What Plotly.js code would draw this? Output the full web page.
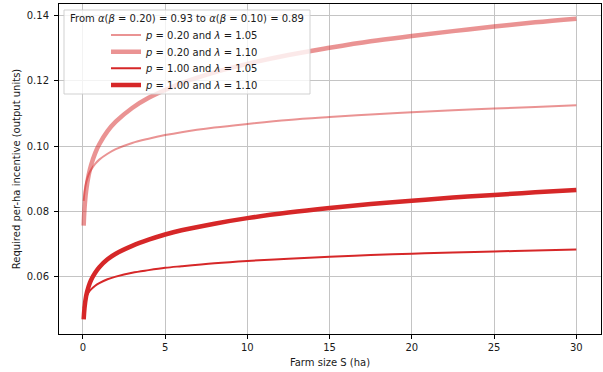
<!DOCTYPE html>
<html>
<head>
<meta charset="utf-8">
<script src="https://cdn.plot.ly/plotly-3.0.1.min.js"></script>
<style>html,body{margin:0;padding:0;background:#fff;}#chart{width:603px;height:372px;}</style>
</head>
<body>
<div id="chart"></div>
<script>
// Farm size S (ha)
const farmSize = [0.05,0.1,0.2,0.35,0.5,0.75,1,1.5,2,3,4,5,6,8,10,12.5,15,17.5,20,22.5,25,27.5,30];
// p = 0.20, lambda = 1.05
const p020_l105 = [0.0833,0.0861,0.0889,0.0913,0.0928,0.0946,0.0959,0.0977,0.0991,0.1010,0.1023,0.1034,0.1043,0.1057,0.1068,0.1080,0.1089,0.1097,0.1104,0.1110,0.1115,0.1120,0.1125];
// p = 0.20, lambda = 1.10
const p020_l110 = [0.0757,0.0809,0.0864,0.0911,0.0942,0.0979,0.1006,0.1046,0.1075,0.1117,0.1148,0.1172,0.1193,0.1226,0.1252,0.1279,0.1301,0.1321,0.1337,0.1352,0.1366,0.1379,0.1390];
// p = 1.00, lambda = 1.05
const p100_l105 = [0.0504,0.0520,0.0538,0.0553,0.0562,0.0573,0.0581,0.0593,0.0601,0.0613,0.0621,0.0628,0.0633,0.0642,0.0649,0.0656,0.0662,0.0667,0.0671,0.0675,0.0678,0.0681,0.0684];
// p = 1.00, lambda = 1.10
const p100_l110 = [0.0470,0.0505,0.0542,0.0571,0.0591,0.0613,0.0630,0.0654,0.0671,0.0695,0.0714,0.0730,0.0743,0.0763,0.0780,0.0797,0.0811,0.0823,0.0833,0.0843,0.0851,0.0859,0.0866];

const seriesNames = [
  '<i>p</i> = 0.20 and <i>λ</i> = 1.05',
  '<i>p</i> = 0.20 and <i>λ</i> = 1.10',
  '<i>p</i> = 1.00 and <i>λ</i> = 1.05',
  '<i>p</i> = 1.00 and <i>λ</i> = 1.10'
];
const legendTitle = 'From <i>α</i>(<i>β</i> = 0.20) = 0.93 to <i>α</i>(<i>β</i> = 0.10) = 0.89';
const xTicks = [0,5,10,15,20,25,30];
const yTicks = [0.06,0.08,0.10,0.12,0.14];

const light = 'rgba(214,39,40,0.5)';
const dark = 'rgb(214,39,40)';
const ys = [p020_l105, p020_l110, p100_l105, p100_l110];
const colors = [light, light, dark, dark];
const widths = [2, 4.5, 2, 4.5];
const legendIds = ['legend', 'legend2', 'legend3', 'legend4'];
const legendRowY = [35, 51.7, 68.3, 85];

const traces = ys.map((y, i) => ({
  x: farmSize, y: y, type: 'scatter', mode: 'lines', name: seriesNames[i],
  legend: legendIds[i],
  line: {color: colors[i], width: widths[i], shape: 'spline', smoothing: 1}
}));

const W = 603, H = 372, ml = 59, mr = 2, mt = 4, mb = 38;
const pw = W - ml - mr, ph = H - mt - mb;
const px = v => (v - ml) / pw;
const py = v => 1 - (v - mt) / ph;

const font = {family: 'DejaVu Sans', size: 10, color: '#1a1a1a'};
const layout = {
  width: W, height: H,
  margin: {l: ml, r: mr, t: mt, b: mb, pad: 0},
  paper_bgcolor: '#fff', plot_bgcolor: '#fff',
  font: font,
  showlegend: true,
  xaxis: {
    range: [-1.45, 31.5], tickvals: xTicks, ticktext: xTicks.map(String),
    showgrid: true, gridcolor: '#c4c4c4', gridwidth: 1, zeroline: false,
    showline: true, linecolor: '#000', linewidth: 1, mirror: true,
    ticks: 'outside', ticklen: 4, tickcolor: '#000', tickwidth: 1,
    tickfont: font,
    title: {text: 'Farm size S (ha)', font: font, standoff: 6}
  },
  yaxis: {
    range: [0.04256, 0.1435], tickvals: yTicks, ticktext: yTicks.map(v => v.toFixed(2)),
    showgrid: true, gridcolor: '#c4c4c4', gridwidth: 1, zeroline: false,
    showline: true, linecolor: '#000', linewidth: 1, mirror: true,
    ticks: 'outside', ticklen: 4, tickcolor: '#000', tickwidth: 1,
    ticklabelstandoff: 3,
    tickfont: font,
    title: {text: 'Required per-ha incentive (output units)', font: font, standoff: 4}
  },
  shapes: [{
    type: 'rect', xref: 'paper', yref: 'paper', layer: 'above',
    x0: px(64), x1: px(310), y0: py(94), y1: py(10),
    fillcolor: 'rgba(255,255,255,0.8)', line: {color: 'rgba(204,204,204,0.9)', width: 1}
  }],
  annotations: [{
    xref: 'paper', yref: 'paper', x: px(187), y: py(19),
    xanchor: 'center', yanchor: 'middle', showarrow: false,
    text: legendTitle, font: font
  }]
};
legendIds.forEach((id, i) => {
  layout[id] = {
    x: px(106), y: py(legendRowY[i]), xanchor: 'left', yanchor: 'middle',
    bgcolor: 'rgba(0,0,0,0)', borderwidth: 0, font: font
  };
});

Plotly.newPlot('chart', traces, layout, {staticPlot: true, displayModeBar: false});
</script>
</body>
</html>
